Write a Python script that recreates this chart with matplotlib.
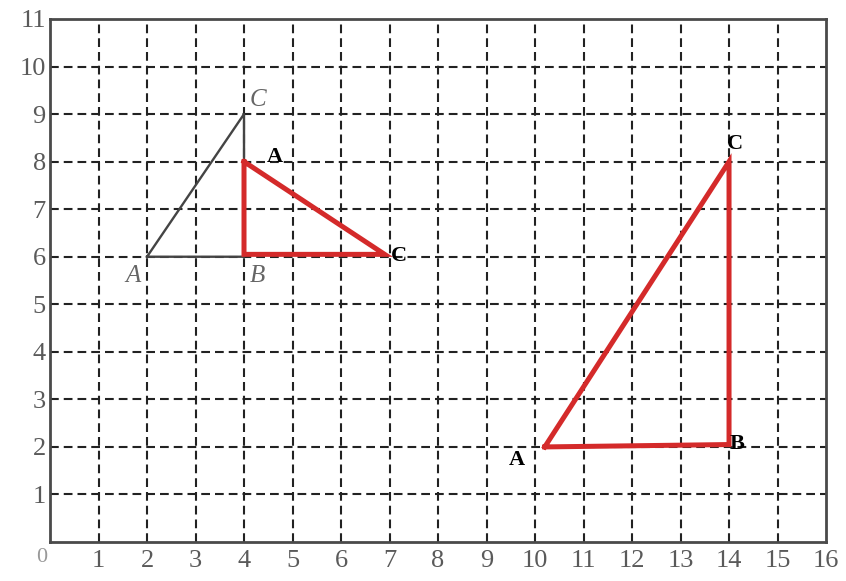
import matplotlib.pyplot as plt

# ------------------------------------------------------------------ #
#                         DATOS DEL GRAFICO
# ------------------------------------------------------------------ #
x_ticks = list(range(1, 17))
y_ticks = list(range(1, 12))

# triangulo original (negro)
orig_x = [2, 4, 4, 2]
orig_y = [6, 6, 9, 6]
orig_labels = ["A", "B", "C"]
orig_label_x = [1.72, 4.27, 4.28]
orig_label_y = [5.6, 5.6, 9.3]

# triangulo rotado (rojo, pequeño)
rot_x = [4, 4, 6.9, 4]
rot_y = [8, 6.05, 6.05, 8]
rot_labels = ["A", "C"]
rot_label_x = [4.64, 7.2]
rot_label_y = [8.1, 6.02]

# triangulo ampliado (rojo, grande)
big_x = [10.2, 14, 14, 10.2]
big_y = [2.0, 2.05, 8.0, 2.0]
big_labels = ["A", "B", "C"]
big_label_x = [9.63, 14.17, 14.12]
big_label_y = [1.72, 2.06, 8.38]

# ------------------------------------------------------------------ #
#                              FIGURA
# ------------------------------------------------------------------ #
fig = plt.figure(figsize=(8.46, 5.81), dpi=100)
ax = fig.add_axes([0.0591, 0.0671, 0.9173, 0.9002])
ax.set_xlim(0, 16)
ax.set_ylim(0, 11)

# cuadricula punteada
for xv in range(1, 16):
    ax.axvline(xv, color="#222222", lw=1.5, ls=(0, (4.2, 2.4)), zorder=1)
for yv in range(1, 11):
    ax.axhline(yv, color="#222222", lw=1.5, ls=(0, (4.2, 2.4)), zorder=1)

for s in ax.spines.values():
    s.set_color("#4a4a4a")
    s.set_linewidth(2.0)

ax.set_xticks(x_ticks)
ax.set_yticks(y_ticks)
ax.set_xticklabels([str(v) for v in x_ticks])
ax.set_yticklabels([str(v) for v in y_ticks])
ax.tick_params(length=0, labelsize=19, labelcolor="#5a5a5a")
ax.tick_params(axis="x", pad=6)
ax.tick_params(axis="y", pad=3)
for t in ax.get_xticklabels() + ax.get_yticklabels():
    t.set_family("Liberation Serif")
ax.text(-0.17, -0.33, "0", fontsize=16, color="#999999", family="Liberation Serif",
        ha="center", va="center", clip_on=False)

# triangulos
ax.plot(orig_x, orig_y, color="#444444", lw=1.7, zorder=3)
ax.plot(rot_x, rot_y, color="#d42a2a", lw=3.6, solid_joinstyle="miter", zorder=4)
ax.plot(big_x, big_y, color="#d42a2a", lw=3.6, solid_joinstyle="miter", zorder=4)

# etiquetas de vertices
for lab, lx, ly in zip(orig_labels, orig_label_x, orig_label_y):
    ax.text(lx, ly, lab, fontsize=18, style="italic", color="#666666",
            family="Liberation Serif", ha="center", va="center", zorder=5)
for lab, lx, ly in zip(rot_labels, rot_label_x, rot_label_y):
    ax.text(lx, ly, lab, fontsize=16, weight="bold", color="black",
            family="Liberation Serif", ha="center", va="center", zorder=5)
for lab, lx, ly in zip(big_labels, big_label_x, big_label_y):
    ax.text(lx, ly, lab, fontsize=16, weight="bold", color="black",
            family="Liberation Serif", ha="center", va="center", zorder=5)

fig.savefig("out.png", dpi=100)
